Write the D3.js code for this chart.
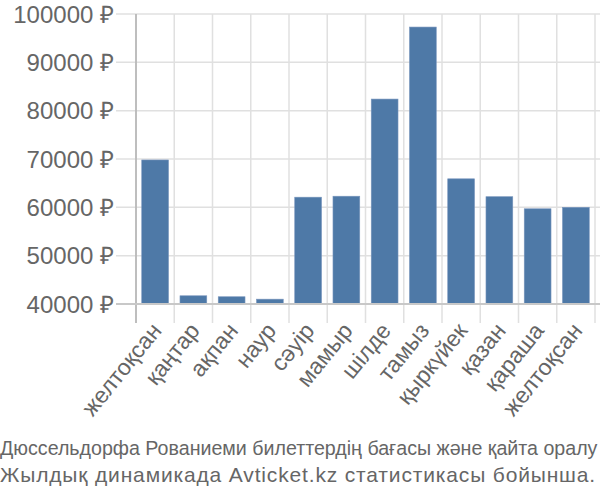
<!DOCTYPE html>
<html><head><meta charset="utf-8">
<script src="https://cdn.jsdelivr.net/npm/d3@7/dist/d3.min.js"></script>
<style>body{margin:0;background:#fff}svg{display:block}</style>
</head><body>
<svg id="c" width="600" height="500"></svg>
<script>
const months = ["желтоқсан","қаңтар","ақпан","наур","сәуір","мамыр","шілде","тамыз","қыркүйек","қазан","қараша","желтоқсан"];
const prices = [69800, 41700, 41500, 41000, 62100, 62300, 82400, 97300, 65900, 62200, 59700, 60000];
const yTicks = [40000, 50000, 60000, 70000, 80000, 90000, 100000];
const caption = ["Дюссельдорфа Рованиеми билеттердің бағасы және қайта оралу", "Жылдық динамикада Avticket.kz статистикасы бойынша."];

const svg = d3.select("#c");
const L = 136, R = 595, T = 14, B = 304;
const font = "'Liberation Sans', Arial, sans-serif";
const x = d3.scaleBand().domain(d3.range(months.length)).range([L, R]).paddingInner(0.3).paddingOuter(0.15);
const y = d3.scaleLinear().domain([40000, 100000]).range([B, T]);
const grid = "#e0e0e0";

svg.append("g").selectAll("line").data(yTicks).join("line")
  .attr("x1", 116).attr("x2", 600).attr("y1", d => y(d)).attr("y2", d => y(d))
  .attr("stroke", grid).attr("stroke-width", 1.5);
const bounds = d3.range(months.length + 1).map(i => L + i * (R - L) / months.length);
svg.append("g").selectAll("line").data(bounds).join("line")
  .attr("x1", d => d).attr("x2", d => d).attr("y1", T).attr("y2", 323)
  .attr("stroke", grid).attr("stroke-width", 1.5);

svg.append("g").selectAll("rect").data(prices).join("rect")
  .attr("x", (d, i) => x(i)).attr("width", x.bandwidth())
  .attr("y", d => y(d)).attr("height", d => B - y(d))
  .attr("fill", "#4e79a7").attr("stroke", "#7895bd").attr("stroke-width", 0.6);

svg.append("line").attr("x1", L).attr("x2", L).attr("y1", T).attr("y2", 323).attr("stroke", "#b0b0b0").attr("stroke-width", 1.5);
svg.append("line").attr("x1", 116).attr("x2", 600).attr("y1", B).attr("y2", B).attr("stroke", "#c8c8c8").attr("stroke-width", 2);

svg.append("g").selectAll("text").data(yTicks).join("text")
  .attr("x", 114).attr("y", d => y(d)).attr("dy", "0.36em")
  .attr("text-anchor", "end").attr("font-family", font).attr("font-size", 24).attr("fill", "#666")
  .text(d => d + " ₽");

svg.append("g").selectAll("text").data(months).join("text")
  .attr("transform", (d, i) => `translate(${x(i) + x.bandwidth() / 2 - 5},${321}) rotate(-51)`)
  .attr("text-anchor", "end").attr("dy", "0.7em").attr("font-family", font).attr("font-size", 23).attr("fill", "#666")
  .text(d => d);

const c1 = svg.append("text").attr("x", 0).attr("y", 455).attr("font-family", font).attr("font-size", 21).attr("fill", "#666")
  .text(caption[0]);
const w1 = c1.node().getComputedTextLength();
if (w1 > 598) c1.attr("font-size", 21 * 598 / w1);
const c2 = svg.append("text").attr("x", 0).attr("y", 482).attr("font-family", font).attr("font-size", 21).attr("fill", "#666")
  .text(caption[1]);
const w2 = c2.node().getComputedTextLength();
if (w2 < 596) c2.attr("letter-spacing", (596 - w2) / caption[1].length);
else c2.attr("font-size", 21 * 596 / w2);
</script>
</body></html>
